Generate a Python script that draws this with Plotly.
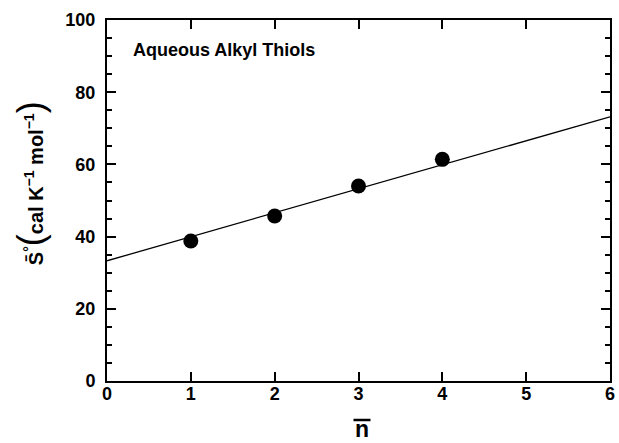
import plotly.graph_objects as go

# Partial molar entropy of aqueous alkyl thiols vs. mean carbon number
n_carbon = [1, 2, 3, 4]
entropy = [38.8, 45.7, 54.0, 61.4]

# Correlation line: S = intercept + slope * n
line_intercept = 33.3
line_slope = 6.65
line_n = [0, 6]
line_s = [line_intercept + line_slope * v for v in line_n]

x_ticks = [0, 1, 2, 3, 4, 5, 6]
y_ticks = [0, 20, 40, 60, 80, 100]

FONT = "Liberation Sans"

fig = go.Figure()
fig.add_trace(go.Scatter(
    x=line_n, y=line_s, mode="lines",
    line=dict(color="black", width=1.3),
    hoverinfo="skip", showlegend=False,
))
fig.add_trace(go.Scatter(
    x=n_carbon, y=entropy, mode="markers",
    marker=dict(color="black", size=15, line=dict(width=0)),
    showlegend=False,
))

axis_common = dict(
    showgrid=False, zeroline=False,
    showline=True, linecolor="black", linewidth=2,
    mirror="ticks", ticks="inside", tickcolor="black", tickwidth=2,
    tickfont=dict(family=FONT, size=18, color="black", weight="bold"),
)

fig.update_xaxes(
    range=[0, 6], tickvals=x_ticks, ticktext=[str(v) for v in x_ticks],
    ticklen=9, ticklabelstandoff=-5, **axis_common,
)
fig.update_yaxes(
    range=[0, 100], tickvals=y_ticks, ticktext=[str(v) for v in y_ticks],
    ticklen=9, ticklabelstandoff=6,
    minor=dict(dtick=5, ticklen=5, ticks="inside", tickcolor="black", tickwidth=2),
    **axis_common,
)

# Panel title inside the plot
fig.add_annotation(
    x=0, y=1, xref="paper", yref="paper", xanchor="left", yanchor="top",
    xshift=24, yshift=-18, showarrow=False,
    text="<b>Aqueous Alkyl Thiols</b>",
    font=dict(family=FONT, size=18, color="black"),
)

# x-axis title: n with an overbar
fig.add_annotation(
    x=0.5, y=0, xref="paper", yref="paper", xanchor="center", yanchor="bottom",
    xshift=3, yshift=-63, showarrow=False,
    text="<b>n</b>", font=dict(family=FONT, size=23, color="black"),
)
fig.add_shape(
    type="line", xref="paper", yref="paper",
    xsizemode="pixel", ysizemode="pixel", xanchor=0.5, yanchor=0,
    x0=-5, x1=12, y0=-39, y1=-39,
    line=dict(color="black", width=2.5),
)

# y-axis title: partial molar entropy with units
fig.add_annotation(
    x=0, y=0.548, xref="paper", yref="paper", xanchor="center", yanchor="middle",
    xshift=-77, showarrow=False, textangle=-90,
    text=("<b>S\u0304<sup>°</sup></b><span style='font-size:36px'>(</span>"
          "<b>cal K<sup>\u22121</sup> mol<sup>\u22121</sup></b>"
          "<span style='font-size:36px'>)</span>"),
    font=dict(family=FONT, size=20, color="black"),
)

fig.update_layout(
    width=619, height=443,
    margin=dict(l=107, r=4, t=20, b=62),
    paper_bgcolor="white", plot_bgcolor="white",
    font=dict(family=FONT, color="black"),
)

fig.write_html("out.html")
